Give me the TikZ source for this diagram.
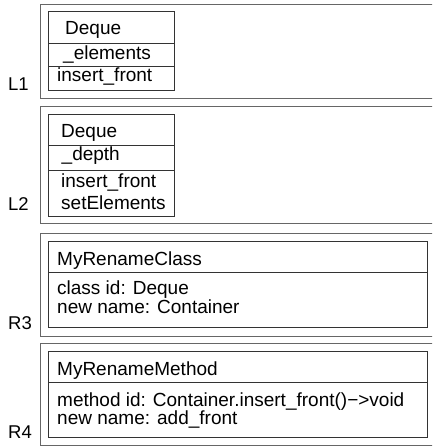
\documentclass[tikz,border=0pt]{standalone}
\usepackage{fontspec}
\setmainfont{Liberation Sans}
\begin{document}
\begin{tikzpicture}[x=1pt,y=-1pt,
  frame/.style={draw=black!60,line width=1pt,rectangle,anchor=north west,inner sep=0pt,outer sep=0pt},
  umlbox/.style={draw=black!80,line width=0.9pt,rectangle,anchor=north west,inner sep=0pt,outer sep=0pt},
  divider/.style={draw=black!80,line width=0.9pt},
  txt/.style={anchor=base west,inner sep=0pt,font=\fontsize{19}{22}\selectfont},
  lbl/.style={anchor=base west,inner sep=0pt,font=\fontsize{18.5}{22}\selectfont}]
\useasboundingbox (0,0) rectangle (432,447);
\clip (0,0) rectangle (432,447);
% outer frames
\node[frame,minimum width=405pt,minimum height=94pt] (f1) at (40,4) {};
\node[frame,minimum width=405pt,minimum height=117.5pt] (f2) at (40,106) {};
\node[frame,minimum width=405pt,minimum height=103pt] (f3) at (40,233) {};
\node[frame,minimum width=405pt,minimum height=101.5pt] (f4) at (40,343.5) {};
% inner boxes
\node[umlbox,minimum width=126pt,minimum height=78.3pt] (b1) at (48,11.7) {};
\draw[divider] (48,43) -- (174,43);
\draw[divider] (48,66.7) -- (174,66.7);
\node[umlbox,minimum width=126pt,minimum height=102.7pt] (b2) at (48,114) {};
\draw[divider] (48,145) -- (174,145);
\draw[divider] (48,170) -- (174,170);
\node[umlbox,minimum width=379.5pt,minimum height=85.5pt] (b3) at (48,241.5) {};
\draw[divider] (48,272.7) -- (427.5,272.7);
\node[umlbox,minimum width=379.5pt,minimum height=85.6pt] (b4) at (48,351.7) {};
\draw[divider] (48,382.3) -- (427.5,382.3);
% texts L1
\node[txt] (t11) at (65,34.5) {Deque};
\node[txt] (t12) at (63,59) {\_elements};
\node[txt] (t13) at (57,81.5) {insert\_front};
% texts L2
\node[txt] (t21) at (61,137.5) {Deque};
\node[txt] (t22) at (61.5,160) {\_depth};
\node[txt] (t23) at (61,187) {insert\_front};
\node[txt] (t24) at (61,209.5) {setElements};
% texts R3
\node[txt] (t31) at (57,265) {MyRenameClass};
\node[txt] (t32) at (57,294.5) {class id: Deque};
\node[txt] (t33) at (57,313.5) {new name: Container};
% texts R4
\node[txt] (t41) at (57,375) {MyRenameMethod};
\node[txt] (t42) at (57,406) {method id: Container.insert\_front()−>void};
\node[txt] (t43) at (57,424.5) {new name: add\_front};
% labels
\node[lbl] (l1) at (8,90) {L1};
\node[lbl] (l2) at (8,210) {L2};
\node[lbl] (l3) at (8,329) {R3};
\node[lbl] (l4) at (8,438) {R4};
\end{tikzpicture}
\end{document}
